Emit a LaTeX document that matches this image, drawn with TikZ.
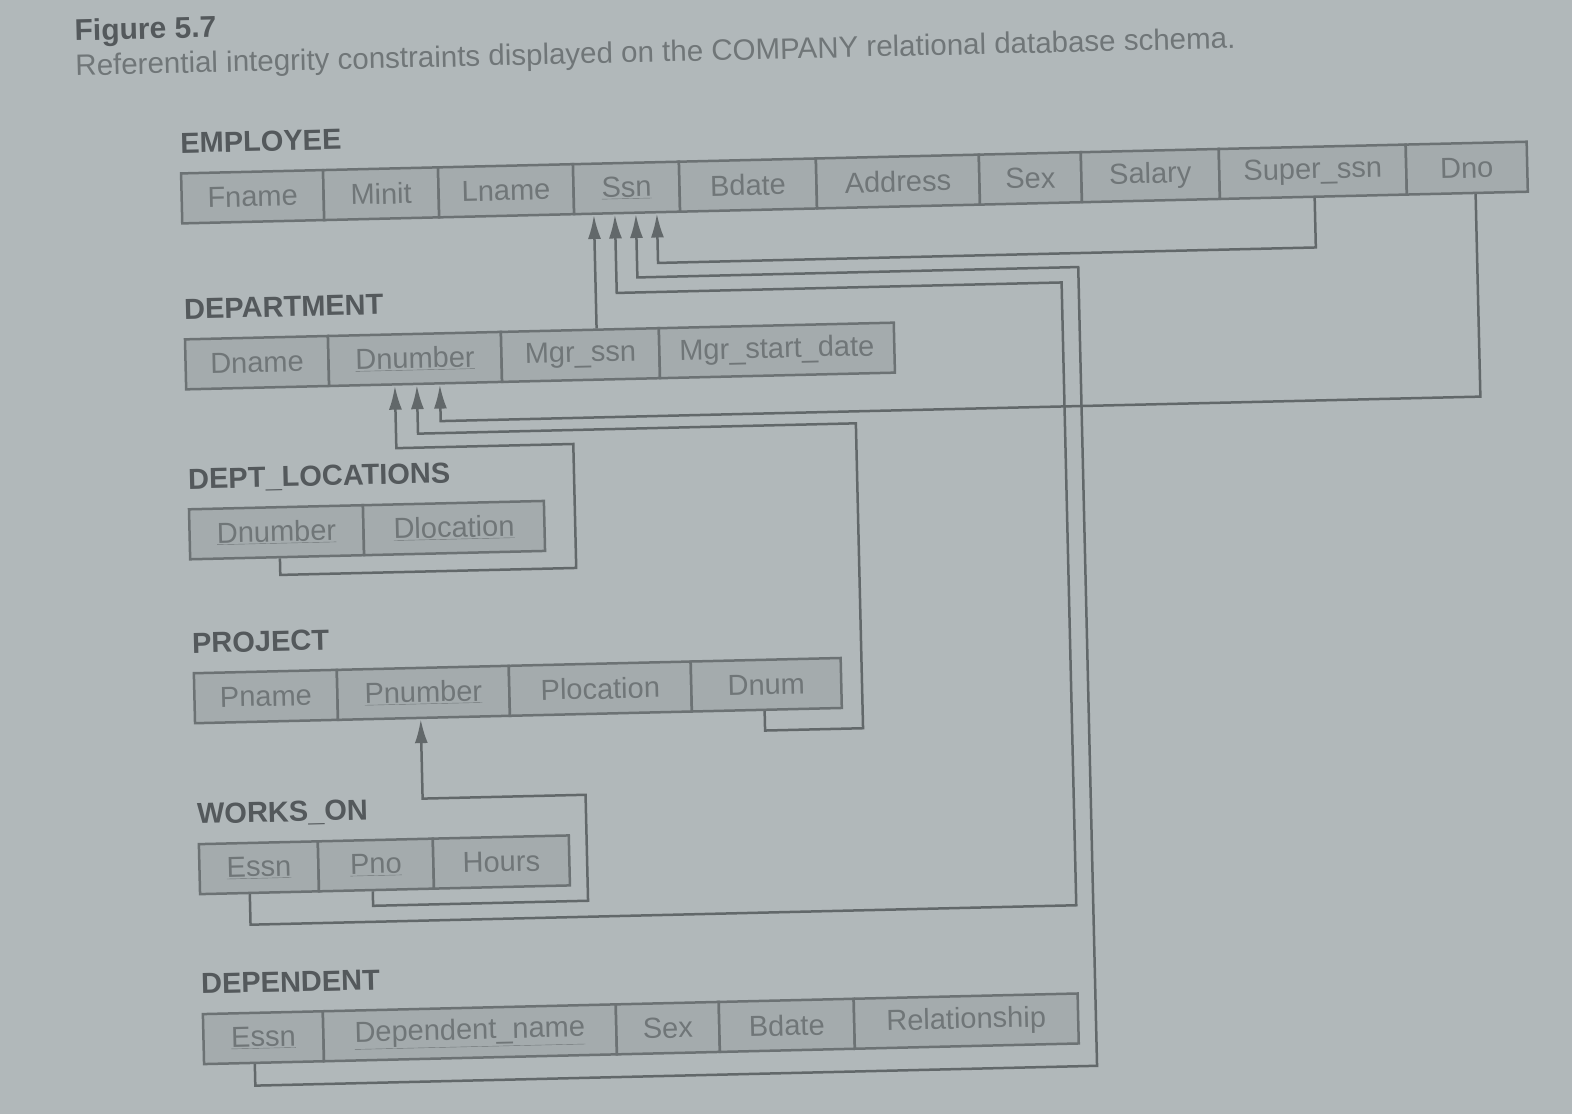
\documentclass[tikz,border=0pt]{standalone}
\usepackage{fontspec}
\setmainfont{Liberation Sans}
\usetikzlibrary{arrows.meta}
\definecolor{bgc}{RGB}{177,184,186}
\definecolor{cellfill}{RGB}{164,171,173}
\definecolor{cellborder}{RGB}{108,114,116}
\definecolor{celltext}{RGB}{112,118,120}
\definecolor{labeltext}{RGB}{84,89,92}
\definecolor{linec}{RGB}{98,104,106}
\newcommand{\keyu}[1]{\underline{#1}}
\tikzset{
  cell/.style={draw=cellborder, line width=2.5pt, fill=cellfill, minimum height=50pt,
    inner sep=0pt, text=celltext, font=\fontsize{29}{34}\selectfont, anchor=north west},
  relname/.style={anchor=base west, inner sep=0pt, text=labeltext,
    font=\fontsize{29}{34}\selectfont\bfseries},
  fk/.style={draw=linec, line width=2.5pt, -{Latex[length=24pt,width=13pt]}},
}
\begin{document}
\begin{tikzpicture}[x=1pt,y=-1pt]
\useasboundingbox (0,0) rectangle (1572,1114);
\fill[bgc] (0,0) rectangle (1572,1114);
\begin{scope}[rotate around={1.35:(786,557)}, transform shape]
% title
\node[anchor=base west, inner sep=0pt, text=labeltext, font=\fontsize{30}{34}\selectfont\bfseries] (figno) at (87,24) {Figure 5.7};
\node[anchor=base west, inner sep=0pt, text=celltext, font=\fontsize{29.5}{34}\selectfont] (caption) at (87,59) {Referential integrity constraints displayed on the COMPANY relational database schema.};
% EMPLOYEE
\node[relname] (employee) at (190,139) {EMPLOYEE};
\node[cell, minimum width=142pt] (e-fname) at (189,158) {Fname};
\node[cell, minimum width=115pt] (e-minit) at (331,158) {Minit};
\node[cell, minimum width=135pt] (e-lname) at (446,158) {Lname};
\node[cell, minimum width=106pt] (e-ssn) at (581,158) {\keyu{Ssn}};
\node[cell, minimum width=137pt] (e-bdate) at (687,158) {Bdate};
\node[cell, minimum width=163pt] (e-address) at (824,158) {Address};
\node[cell, minimum width=102pt] (e-sex) at (987,158) {Sex};
\node[cell, minimum width=138pt] (e-salary) at (1089,158) {Salary};
\node[cell, minimum width=187pt] (e-super) at (1227,158) {Super\_ssn};
\node[cell, minimum width=121pt] (e-dno) at (1414,158) {Dno};
% DEPARTMENT
\node[relname] (department) at (190,305) {DEPARTMENT};
\node[cell, minimum width=143pt] (d-dname) at (189,324) {Dname};
\node[cell, minimum width=173pt] (d-dnumber) at (332,324) {\keyu{Dnumber}};
\node[cell, minimum width=158pt] (d-mgrssn) at (505,324) {Mgr\_ssn};
\node[cell, minimum width=235pt] (d-mgrdate) at (663,324) {Mgr\_start\_date};
% DEPT_LOCATIONS
\node[relname] (deptloc) at (190,475) {DEPT\_LOCATIONS};
\node[cell, minimum width=174pt] (l-dnumber) at (189,494) {\keyu{Dnumber}};
\node[cell, minimum width=181pt] (l-dloc) at (363,494) {\keyu{Dlocation}};
% PROJECT
\node[relname] (project) at (190,639) {PROJECT};
\node[cell, minimum width=143pt] (p-pname) at (190,658) {Pname};
\node[cell, minimum width=172pt] (p-pnumber) at (333,658) {\keyu{Pnumber}};
\node[cell, minimum width=182pt] (p-ploc) at (505,658) {Plocation};
\node[cell, minimum width=150pt] (p-dnum) at (687,658) {Dnum};
% WORKS_ON
\node[relname] (workson) at (191,810) {WORKS\_ON};
\node[cell, minimum width=119pt] (w-essn) at (191,829) {\keyu{Essn}};
\node[cell, minimum width=115pt] (w-pno) at (310,829) {\keyu{Pno}};
\node[cell, minimum width=136pt] (w-hours) at (425,829) {Hours};
% DEPENDENT
\node[relname] (dependent) at (191,980) {DEPENDENT};
\node[cell, minimum width=120pt] (t-essn) at (191,999) {\keyu{Essn}};
\node[cell, minimum width=293pt] (t-dname) at (311,999) {\keyu{Dependent\_name}};
\node[cell, minimum width=103pt] (t-sex) at (604,999) {Sex};
\node[cell, minimum width=135pt] (t-bdate) at (707,999) {Bdate};
\node[cell, minimum width=224pt] (t-rel) at (842,999) {Relationship};
% connectors into EMPLOYEE.Ssn
\draw[fk] (d-mgrssn.north -| 602,0) -- (e-ssn.south -| 602,0);
\draw[fk] (w-essn.south -| 242,0) |- (1068,912) |- (623,289) -- (e-ssn.south -| 623,0);
\draw[fk] (t-essn.south -| 243,0) |- (1085,1073) |- (644,274) -- (e-ssn.south -| 644,0);
\draw[fk] (e-super.south -| 1323,0) |- (665,260) -- (e-ssn.south -| 665,0);
% connectors into DEPARTMENT.Dnumber
\draw[fk] (e-dno.south -| 1484,0) |- (444,413) -- (d-dnumber.south -| 444,0);
\draw[fk] (p-dnum.south -| 761,0) |- (859,730) |- (421,425) -- (d-dnumber.south -| 421,0);
\draw[fk] (l-dnumber.south -| 280,0) |- (576,563) |- (399,439) -- (d-dnumber.south -| 399,0);
% connector into PROJECT.Pnumber
\draw[fk] (w-pno.south -| 365,0) |- (580,896) |- (417,790) -- (p-pnumber.south -| 417,0);
\end{scope}
\end{tikzpicture}
\end{document}
